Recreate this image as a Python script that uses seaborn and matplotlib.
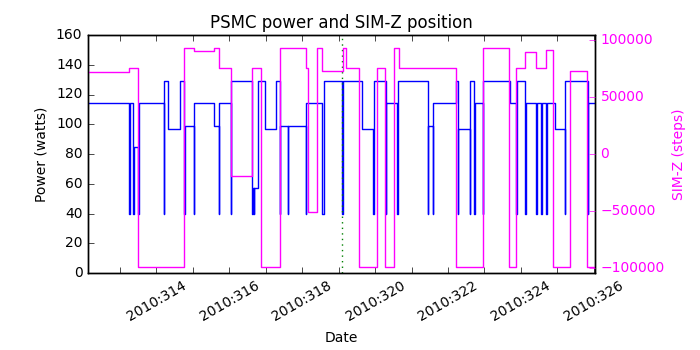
import matplotlib
matplotlib.use('Agg')
import matplotlib.pyplot as plt
import seaborn as sns

# PSMC power (watts), step changes at day-of-year 2010
power_days = [312.128, 313.264, 313.275, 313.370, 313.380, 313.512, 313.520,
              314.199, 314.210, 314.330, 314.659, 314.769, 314.780, 315.025,
              315.035, 315.575, 315.713, 315.720, 316.054, 316.060, 316.631,
              316.640, 316.670, 316.680, 316.791, 316.978, 317.292, 317.382,
              317.390, 317.611, 317.620, 318.098, 318.110, 318.557, 318.600,
              319.085, 319.110, 319.638, 319.933, 319.977, 320.290, 320.300,
              320.600, 320.620, 321.440, 321.446, 321.583, 321.590, 322.224,
              322.271, 322.280, 322.590, 322.595, 322.700, 322.728, 322.959,
              322.965, 323.690, 323.875, 323.880, 324.123, 324.130, 324.425,
              324.430, 324.563, 324.570, 324.700, 324.705, 324.929, 325.204,
              325.210, 325.840, 325.847, 326.030]
power_watts = [114, 40, 114, 40, 85, 40, 114,
               40, 129, 97, 129, 40, 99, 40,
               114, 99, 40, 114, 40, 129, 40,
               57, 40, 57, 129, 97, 129, 40,
               99, 40, 99, 40, 114, 40, 129,
               40, 129, 97, 40, 129, 40, 114,
               40, 129, 40, 99, 40, 114, 129,
               40, 97, 40, 129, 40, 114, 40,
               129, 114, 40, 129, 40, 114, 40,
               114, 40, 114, 40, 114, 97, 40,
               129, 40, 114, 114]

# SIM-Z position (steps)
simz_days = [312.128, 313.264, 313.495, 314.769, 315.025, 315.575, 315.713,
             316.054, 316.631, 316.860, 317.382, 318.098, 318.161, 318.420,
             318.557, 319.107, 319.198, 319.564, 320.043, 320.279, 320.527,
             320.648, 322.224, 322.959, 323.674, 323.856, 324.123, 324.425,
             324.700, 324.865, 325.341, 325.820, 326.030]
simz_steps = [72400, 75624, -99616, 92904, 90750, 92904, 75624,
              -19600, 75624, -99616, 92904, 75624, -50504, 92904,
              72800, 92904, 75624, -99616, 75624, -99616, 92904,
              75624, -99616, 92904, -99616, 75624, 89500, 75624,
              91000, -99616, 72800, -99616, -99616]

event_day = 319.08
tick_days = list(range(313, 327))
tick_labels = ['2010:%03d' % d if d % 2 == 0 else '' for d in tick_days]

MAGENTA = '#ff00ff'

plt.style.use('classic')
plt.rcParams['font.size'] = 10
plt.rcParams['font.family'] = ['DejaVu Sans']

fig = plt.figure(figsize=(7, 3.5), dpi=100, facecolor='white')
ax = fig.add_axes([0.1257, 0.22, 0.7243, 0.68])

sns.lineplot(x=power_days, y=power_watts, estimator=None, drawstyle='steps-post',
             color='#0000ff', linewidth=1.0, ax=ax)
ax.axvline(event_day, color='#008000', linestyle=':', linewidth=1.0)
ax.set_xlim(312.128, 326.03)
ax.set_ylim(0, 160)
ax.set_xticks(tick_days)
ax.set_xticklabels(tick_labels, rotation=30)
ax.set_xlabel('Date')
ax.set_ylabel('Power (watts)')
ax.set_title('PSMC power and SIM-Z position', fontsize=12)

ax2 = ax.twinx()
sns.lineplot(x=simz_days, y=simz_steps, estimator=None, drawstyle='steps-post',
             color=MAGENTA, linewidth=1.0, ax=ax2)
ax2.set_xlim(312.128, 326.03)
ax2.set_ylim(-104500, 104500)
ax2.set_yticks([-100000, -50000, 0, 50000, 100000])
ax2.set_ylabel('SIM-Z (steps)', color=MAGENTA)
ax2.tick_params(axis='y', colors=MAGENTA, labelcolor=MAGENTA)
for sp in ax2.spines.values():
    sp.set_color('black')

fig.savefig('out.png', dpi=100, facecolor='white')
